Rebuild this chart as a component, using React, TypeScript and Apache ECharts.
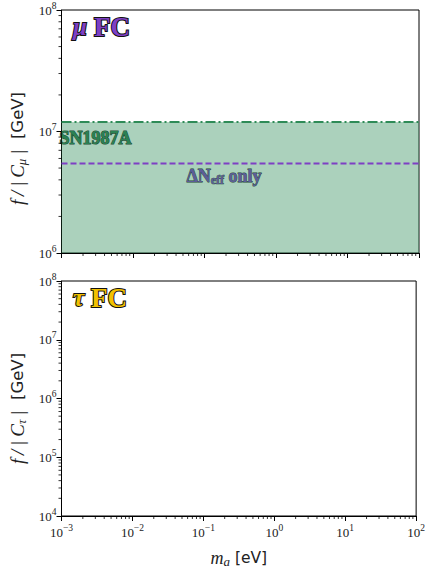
import React, { useEffect, useRef } from "react";
import * as echarts from "echarts";

// ---- data ----
const xRange = [1e-3, 1e2]; // m_a [eV]
const muYRange = [1e6, 1e8]; // f/|C_mu| [GeV]
const tauYRange = [1e4, 1e8]; // f/|C_tau| [GeV]
const sn1987aBound = [
  [1e-3, 1.2e7],
  [1e2, 1.2e7],
];
const deltaNeffBound = [
  [1e-3, 5.45e6],
  [1e2, 5.45e6],
];
const xDecades = [-3, -2, -1, 0, 1];
const muDecades = [6, 7];
const tauDecades = [4, 5, 6, 7];
const minorMultipliers = [2, 3, 4, 5, 6, 7, 8, 9];

const GREEN_LINE = "#2e8b57";
const GREEN_FILL = "rgba(46,139,87,0.4)";
const PURPLE = "#7e3fc4";
const GOLD = "#f2c100";
const SERIF = "Liberation Serif";
const SANS = "DejaVu Sans";

const minorVals = (decades: number[]) =>
  decades.flatMap((d) => minorMultipliers.map((m) => m * Math.pow(10, d)));

const powLabel = (v: number) => {
  const e = Math.round(Math.log10(v));
  const s = e < 0 ? "\u2212" + Math.abs(e) : String(e);
  return "{b|10}{s|" + s + "}";
};

const tickRich = {
  b: { fontFamily: SERIF, fontSize: 13, color: "#222" },
  s: { fontFamily: SERIF, fontSize: 9.5, color: "#222", padding: [0, 0, 9, 0] },
};

const nameRich = {
  i: { fontFamily: SERIF, fontStyle: "italic", fontSize: 19, color: "#222" },
  sub: { fontFamily: SERIF, fontStyle: "italic", fontSize: 13, color: "#222", padding: [7, 0, 0, 0] },
  n: { fontFamily: SANS, fontSize: 16.5, color: "#222" },
};

export default function App() {
  const ref = useRef<HTMLDivElement>(null);
  useEffect(() => {
    if (!ref.current) return;
    const chart = echarts.init(ref.current, null, { renderer: "svg" });

    const xMinor = (idx: number, yMin: number) => ({
      type: "custom",
      xAxisIndex: idx,
      yAxisIndex: idx,
      clip: false,
      silent: true,
      z: 10,
      data: minorVals(xDecades).map((v) => [v, yMin]),
      renderItem: (params: any, api: any) => {
        const p = api.coord([api.value(0), api.value(1)]);
        return {
          type: "line",
          shape: { x1: p[0], y1: p[1], x2: p[0], y2: p[1] + 3 },
          style: { stroke: "#000", lineWidth: 0.8 },
        };
      },
    });
    const yMinor = (idx: number, decades: number[]) => ({
      type: "custom",
      xAxisIndex: idx,
      yAxisIndex: idx,
      clip: false,
      silent: true,
      z: 10,
      data: minorVals(decades).map((v) => [xRange[0], v]),
      renderItem: (params: any, api: any) => {
        const p = api.coord([api.value(0), api.value(1)]);
        return {
          type: "line",
          shape: { x1: p[0] - 3, y1: p[1], x2: p[0], y2: p[1] },
          style: { stroke: "#000", lineWidth: 0.8 },
        };
      },
    });

    const axisCommon = {
      type: "log",
      logBase: 10,
      axisLine: { show: true, onZero: false, lineStyle: { color: "#000", width: 1 } },
      axisTick: { show: true, inside: false, length: 5, lineStyle: { color: "#000", width: 1 } },
      splitLine: { show: false },
      minorTick: { show: false },
    };

    const outlined = (fill: string, size: number, extra: any = {}) => ({
      fontFamily: SERIF,
      fontWeight: "bold",
      fontSize: size,
      fill,
      stroke: "#111",
      lineWidth: 2,
      strokeFirst: true,
      ...extra,
    });

    chart.setOption({
      animation: false,
      backgroundColor: "#fff",
      grid: [
        { left: 56, top: 10, width: 363, height: 243, show: true, borderColor: "#000", borderWidth: 1, backgroundColor: "transparent" },
        { left: 56, top: 281, width: 363, height: 242, show: true, borderColor: "#000", borderWidth: 1, backgroundColor: "transparent" },
      ],
      xAxis: [
        { ...axisCommon, gridIndex: 0, min: xRange[0], max: xRange[1], axisLabel: { show: false } },
        {
          ...axisCommon,
          gridIndex: 1,
          min: xRange[0],
          max: xRange[1],
          axisLabel: { show: true, formatter: powLabel, rich: tickRich, margin: 7 },
          name: "{i|m}{sub|a}{n| [eV]}",
          nameLocation: "middle",
          nameGap: 32,
          nameTextStyle: { rich: { ...nameRich, i: { ...nameRich.i, fontSize: 18 }, n: { ...nameRich.n, fontSize: 15.5 } } },
        },
      ],
      yAxis: [
        {
          ...axisCommon,
          gridIndex: 0,
          min: muYRange[0],
          max: muYRange[1],
          axisLabel: { show: true, formatter: powLabel, rich: tickRich, margin: 5 },
          name: "{i|f\u2009/\u2009|\u2009C}{sub|\u03bc}{i|\u2009|}{n|  [GeV]}",
          nameLocation: "middle",
          nameGap: 34,
          nameRotate: 90,
          nameTextStyle: { rich: nameRich, padding: [0, 34, 0, 0] },
        },
        {
          ...axisCommon,
          gridIndex: 1,
          min: tauYRange[0],
          max: tauYRange[1],
          axisLabel: { show: true, formatter: powLabel, rich: tickRich, margin: 5 },
          name: "{i|f\u2009/\u2009|\u2009C}{sub|\u03c4}{i|\u2009|}{n|  [GeV]}",
          nameLocation: "middle",
          nameGap: 34,
          nameRotate: 90,
          nameTextStyle: { rich: nameRich, padding: [0, 20, 0, 0] },
        },
      ],
      series: [
        {
          type: "line",
          name: "SN1987A",
          xAxisIndex: 0,
          yAxisIndex: 0,
          data: sn1987aBound,
          showSymbol: false,
          symbol: "none",
          lineStyle: { color: GREEN_LINE, width: 2, type: [10, 3, 2, 3] },
          areaStyle: { color: GREEN_FILL, origin: "start", opacity: 1 },
          z: 2,
        },
        {
          type: "line",
          name: "DeltaNeff",
          xAxisIndex: 0,
          yAxisIndex: 0,
          data: deltaNeffBound,
          showSymbol: false,
          symbol: "none",
          lineStyle: { color: PURPLE, width: 2, type: [6, 3] },
          z: 3,
        },
        xMinor(0, muYRange[0]),
        xMinor(1, tauYRange[0]),
        yMinor(0, muDecades),
        yMinor(1, tauDecades),
      ],
      graphic: [
        {
          type: "text",
          left: 72,
          top: 12,
          style: {
            text: "{m|\u03bc}{b|FC}",
            ...outlined(PURPLE, 26),
            rich: {
              m: outlined(PURPLE, 25, { fontStyle: "italic", padding: [0, 7, 0, 0] }),
              b: outlined(PURPLE, 27),
            },
          },
        },
        {
          type: "text",
          left: 72,
          top: 283,
          style: {
            text: "{m|\u03c4}{b|FC}",
            ...outlined(GOLD, 26),
            rich: {
              m: outlined(GOLD, 25, { fontStyle: "italic", padding: [0, 7, 0, 0] }),
              b: outlined(GOLD, 27),
            },
          },
        },
        {
          type: "text",
          left: 59,
          top: 128,
          style: {
            text: "SN1987A",
            ...outlined("#2a7a50", 18, { lineWidth: 1.1, stroke: "#1a1a1a" }),
            font: "bold 18px " + SERIF,
          },
        },
        {
          type: "text",
          left: 186,
          top: 167,
          style: {
            text: "{b|\u0394N}{s|eff}{b| only}",
            ...outlined(PURPLE, 18, { lineWidth: 0.8 }),
            rich: {
              b: outlined(PURPLE, 18, { lineWidth: 0.8 }),
              s: outlined(PURPLE, 12, { lineWidth: 0.7, padding: [8, 0, 0, 0] }),
            },
          },
        },
      ],
    });
    return () => chart.dispose();
  }, []);
  return <div ref={ref} style={{ width: 428, height: 569, position: "absolute", left: 0, top: 0 }} />;
}
